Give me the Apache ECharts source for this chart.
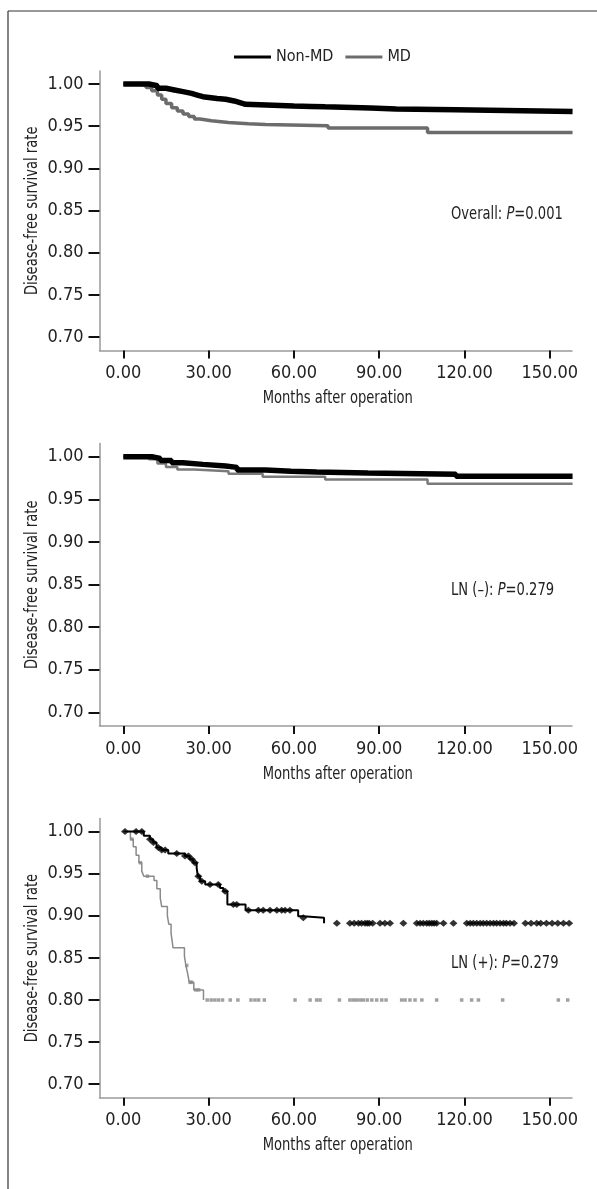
<!DOCTYPE html>
<html>
<head>
<meta charset="UTF-8">
<title>Disease-free survival</title>
<script src="https://cdn.jsdelivr.net/npm/echarts@6/dist/echarts.min.js"></script>
<style>
  html, body { margin: 0; padding: 0; background: #fff; }
  #main { width: 597px; height: 1189px; }
</style>
</head>
<body>
<div id="main"></div>
<script>
// axis ticks
var xTicks = [0, 30, 60, 90, 120, 150];
var yTicks = [0.70, 0.75, 0.80, 0.85, 0.90, 0.95, 1.00];

// Kaplan-Meier steps [months, survival] - overall
var allNonMd = [[0,1.000],[9,0.998],[12,0.995],[15,0.993],[18,0.991],[21,0.989],[24,0.987],[26,0.985],[28,0.983],[33,0.982],[36,0.980],[39,0.978],[41,0.976],[43,0.974],[60,0.9735],[66,0.973],[71,0.9715],[87,0.9703],[96,0.9695],[117,0.9676],[158,0.9676]];
var allMd = [[0,1.000],[5,0.999],[8,0.996],[10,0.992],[12,0.987],[13.5,0.982],[15,0.977],[17,0.972],[19,0.968],[21,0.9645],[23,0.9615],[25,0.9585],[27,0.9565],[31,0.9545],[37,0.953],[44,0.952],[50,0.9505],[72,0.948],[107,0.9425],[158,0.9425]];

// LN (-)
var negNonMd = [[0,1.000],[10,0.998],[13,0.9955],[17,0.993],[21,0.991],[28,0.989],[36,0.9875],[40,0.9845],[50,0.983],[59,0.982],[68,0.981],[86,0.9795],[117,0.977],[158,0.977]];
var negMd = [[0,1.000],[9,0.997],[12,0.992],[15,0.988],[19,0.985],[25,0.983],[37,0.980],[49,0.9765],[71,0.9732],[107,0.9683],[158,0.9683]];

// LN (+)
var posNonMd = [[0,1.000],[7.2,0.995],[9.4,0.991],[10.5,0.987],[11.7,0.981],[13.4,0.978],[15.8,0.974],[21.7,0.971],[23.4,0.967],[24.6,0.963],[25.8,0.957],[26.2,0.947],[27,0.941],[28.8,0.937],[34,0.933],[35.2,0.929],[36.6,0.9135],[43,0.9065],[61.5,0.8995],[63.3,0.8976],[70.6,0.891]];
var posMd = [[0,1.000],[2.5,0.991],[3.5,0.982],[4.5,0.972],[5.5,0.963],[6.5,0.953],[7.2,0.947],[10.8,0.942],[11.8,0.932],[13,0.921],[13.5,0.911],[15.5,0.900],[16,0.890],[16.8,0.879],[17.5,0.862],[21.5,0.852],[22,0.841],[22.6,0.832],[23.2,0.821],[24.8,0.812],[28.2,0.800]];
// censored times (months)
var posNonMdCensor = [0.6,4.5,6.5,9.4,10.6,12.3,13.5,14.7,18.8,21.7,22.9,24.1,25.2,26.4,27.6,30.5,33.4,35.8,38.7,39.9,44,47.5,49.2,51.6,54,55.7,56.9,58.6,63.3,75.1,79.7,81.2,82.7,83.8,85,85.8,86.5,87.7,90.3,92,93.8,98.5,103.2,104.4,105.5,106.7,107.6,108.5,109.3,110.2,112.6,116.1,120.8,122,123.1,124.3,125.5,126.6,127.8,129,130.2,131.3,132.5,133.7,134.7,136,137.4,141.4,143.4,145.4,146.8,148.8,150.8,152.8,154.8,156.8];
var posMdCensor = [3,6,8.5,22.3,23.5,24,25.5,26.5,29.5,30.9,32.2,33.5,34.9,37.6,40.3,44.9,46.3,47.6,49.6,60.4,65.7,68,69.2,76,79.7,80.9,82.1,83.3,84.4,85.8,87.4,89.1,90.9,92.4,97.9,99.1,100.8,102.6,105,110.2,119,122.5,124.9,133.4,153,156.3];

var panelNames = ['Overall: ', 'LN (\u2013): ', 'LN (+): '];
var pValues = ['0.001', '0.279', '0.279'];
var xTitle = 'Months after operation';
var yTitle = 'Disease-free survival rate';

var FONT = '"Liberation Sans Narrow", "Arial Narrow", "DejaVu Sans Condensed", sans-serif';
var TXT = '#222';
var SQUEEZE = 0.81;   // narrow the condensed font a bit more

function survAt(steps, t) {
    var v = steps[0][1];
    for (var i = 0; i < steps.length; i++) {
        if (steps[i][0] <= t) v = steps[i][1];
    }
    return v;
}

// grid top / x-axis line y for each panel, and where the P label sits
var layout = [
    {top: 71, axis: 350.5, noteY: 214},
    {top: 443.5, axis: 726, noteY: 590},
    {top: 818.5, axis: 1097.7, noteY: 963}
];
var gLeft = 99.5, gWidth = 472.5;

var grids = [], xAxes = [], yAxes = [], graphics = [];
layout.forEach(function (p, i) {
    grids.push({left: gLeft, width: gWidth, top: p.top, height: p.axis - p.top});
    xAxes.push({
        gridIndex: i, type: 'value', min: -8.37, max: 157.8,
        axisLine: {onZero: false, lineStyle: {color: '#9a9a9a', width: 1.5}},
        axisTick: {customValues: xTicks, length: 8, lineStyle: {color: '#111', width: 2}},
        axisLabel: {customValues: xTicks, margin: 14, fontFamily: FONT, fontSize: 18, color: TXT,
            formatter: function (v) { return v.toFixed(2); }},
        splitLine: {show: false}
    });
    yAxes.push({
        gridIndex: i, type: 'value', min: 0.684, max: 1.0155,
        axisLine: {show: true, onZero: false, lineStyle: {color: '#9a9a9a', width: 1.5}},
        axisTick: {show: true, customValues: yTicks, length: 11, lineStyle: {color: '#111', width: 2}},
        axisLabel: {customValues: yTicks, margin: 16, fontFamily: FONT, fontSize: 18, color: TXT,
            formatter: function (v) { return v.toFixed(2); }},
        splitLine: {show: false}
    });
    // axis titles as text so the font can be squeezed
    graphics.push({
        type: 'text', x: gLeft + gWidth / 2 + 2, y: p.axis + 48, scaleX: SQUEEZE,
        style: {text: xTitle, fontFamily: FONT, fontSize: 18, fill: TXT, align: 'center', verticalAlign: 'middle'}
    });
    graphics.push({
        type: 'text', x: 32.5, y: (p.top + p.axis) / 2, rotation: Math.PI / 2, scaleX: SQUEEZE,
        style: {text: yTitle, fontFamily: FONT, fontSize: 18, fill: TXT, align: 'center', verticalAlign: 'middle'}
    });
    graphics.push({
        type: 'text', x: 451, y: p.noteY, scaleX: SQUEEZE,
        style: {
            text: panelNames[i] + '{i|P}=' + pValues[i],
            fontFamily: FONT, fontSize: 18, fill: TXT, verticalAlign: 'middle',
            rich: {i: {fontFamily: FONT, fontSize: 18, fontStyle: 'italic', color: TXT}}
        }
    });
});

// frame lines (left and top)
graphics.push({type: 'line', shape: {x1: 8, y1: 11, x2: 597, y2: 11}, style: {stroke: '#333', lineWidth: 1.2}});
graphics.push({type: 'line', shape: {x1: 8, y1: 11, x2: 8, y2: 1189}, style: {stroke: '#333', lineWidth: 1.2}});

function kmLine(name, data, idx, color, width) {
    return {
        name: name, type: 'line', step: 'end', data: data,
        xAxisIndex: idx, yAxisIndex: idx, symbol: 'none', color: color,
        lineStyle: {color: color, width: width}, silent: true
    };
}
function censor(name, steps, times, idx, color, symbol, size) {
    return {
        name: name, type: 'scatter', xAxisIndex: idx, yAxisIndex: idx,
        data: times.map(function (t) { return [t, survAt(steps, t)]; }),
        symbol: symbol, symbolSize: size, itemStyle: {color: color}, silent: true
    };
}

var series = [
    kmLine('MD', allMd, 0, '#6c6c6c', 3.5),
    kmLine('Non-MD', allNonMd, 0, '#000', 5.5),
    kmLine('MD', negMd, 1, '#7a7a7a', 2.5),
    kmLine('Non-MD', negNonMd, 1, '#000', 5.5),
    kmLine('MD', posMd, 2, '#8a8a8a', 1.5),
    kmLine('Non-MD', posNonMd, 2, '#000', 2),
    censor('MD censored', posMd, posMdCensor, 2, '#8a8a8a', 'rect', 3.5),
    censor('Non-MD censored', posNonMd, posNonMdCensor, 2, '#000', 'diamond', [8, 7])
];

var chart = echarts.init(document.getElementById('main'));
chart.setOption({
    animation: false,
    backgroundColor: '#fff',
    legend: {
        data: [{name: 'Non-MD', itemStyle: {color: '#000'}}, {name: 'MD', itemStyle: {color: '#6c6c6c'}}],
        left: 234, top: 49, padding: 0, icon: 'rect', itemWidth: 37, itemHeight: 3, itemGap: 12,
        selectedMode: false,
        textStyle: {fontFamily: FONT, fontSize: 16, color: TXT}
    },
    grid: grids,
    xAxis: xAxes,
    yAxis: yAxes,
    series: series,
    graphic: graphics
});
</script>
</body>
</html>
